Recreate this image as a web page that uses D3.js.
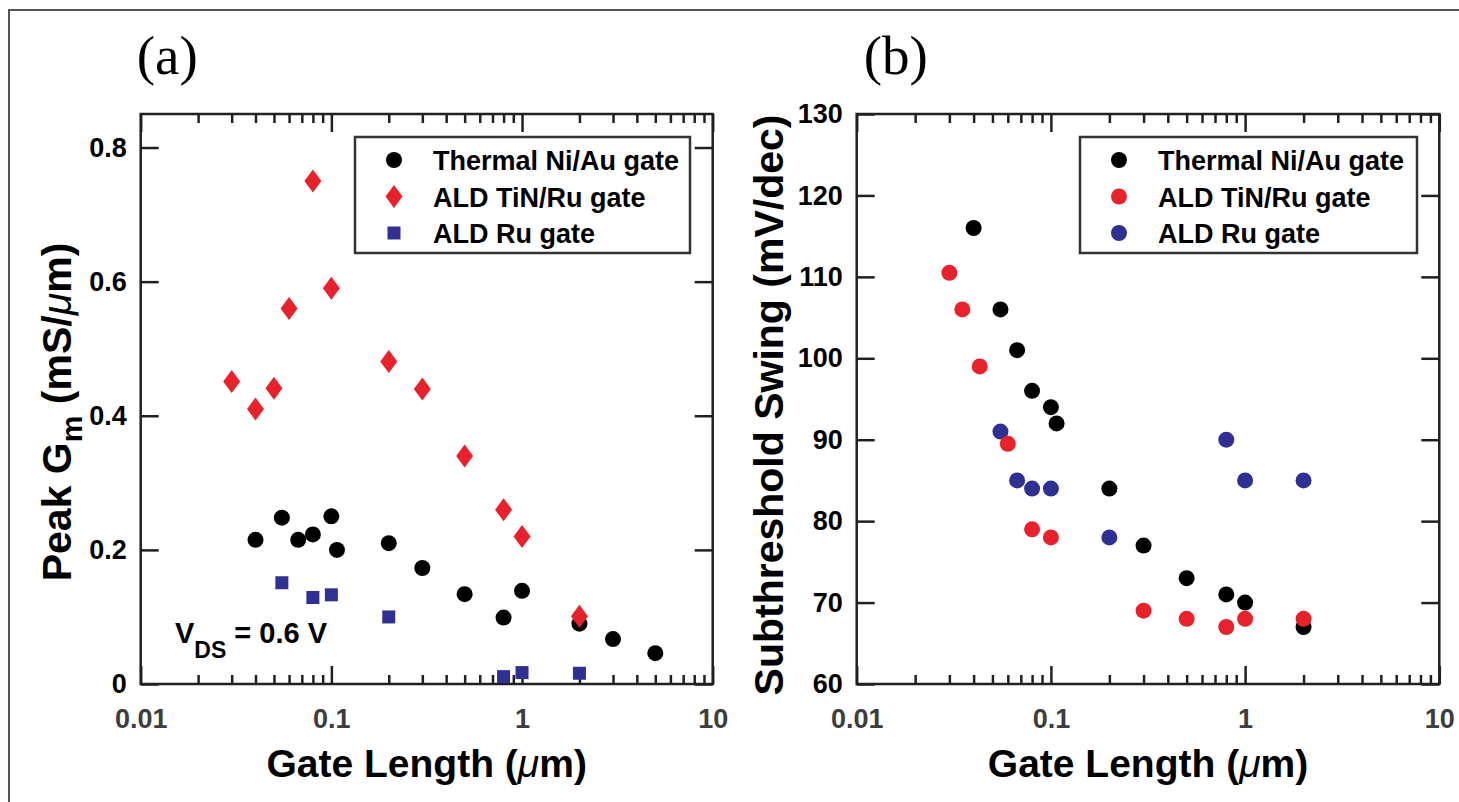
<!DOCTYPE html>
<html>
<head>
<meta charset="utf-8">
<script src="https://cdn.jsdelivr.net/npm/d3@7"></script>
<style>
  body { margin: 0; background: #fff; }
  svg { display: block; font-family: "Liberation Sans", Arial, sans-serif; }
</style>
</head>
<body>
<svg id="chart"></svg>
<script>
// ---- panel (a): peak Gm vs gate length
const thermalLgA = [0.04, 0.055, 0.067, 0.08, 0.1, 0.107, 0.2, 0.3, 0.5, 0.8, 1, 2, 3, 5];
const thermalGm = [0.215, 0.248, 0.215, 0.223, 0.25, 0.2, 0.21, 0.173, 0.134, 0.099, 0.139, 0.09, 0.067, 0.046];
const tinRuLgA = [0.03, 0.04, 0.05, 0.06, 0.08, 0.1, 0.2, 0.3, 0.5, 0.8, 1, 2];
const tinRuGm = [0.451, 0.41, 0.441, 0.56, 0.75, 0.59, 0.481, 0.44, 0.34, 0.26, 0.22, 0.101];
const ruLgA = [0.055, 0.08, 0.1, 0.2, 0.8, 1, 2];
const ruGm = [0.151, 0.129, 0.133, 0.1, 0.011, 0.017, 0.016];

// ---- panel (b): subthreshold swing vs gate length
const thermalLgB = [0.04, 0.055, 0.067, 0.08, 0.1, 0.107, 0.2, 0.3, 0.5, 0.8, 1, 2];
const thermalSS = [116, 106, 101, 96, 94, 92, 84, 77, 73, 71, 70, 67];
const tinRuLgB = [0.03, 0.035, 0.043, 0.06, 0.08, 0.1, 0.3, 0.5, 0.8, 1, 2];
const tinRuSS = [110.5, 106, 99, 89.5, 79, 78, 69, 68, 67, 68, 68];
const ruLgB = [0.055, 0.067, 0.08, 0.1, 0.2, 0.8, 1, 2];
const ruSS = [91, 85, 84, 84, 78, 90, 85, 85];

const legendNames = ["Thermal Ni/Au gate", "ALD TiN/Ru gate", "ALD Ru gate"];
const xTicks = [0.01, 0.1, 1, 10];
const xTickLabels = ["0.01", "0.1", "1", "10"];
const yTicksA = [0, 0.2, 0.4, 0.6, 0.8];
const yTickLabelsA = ["0", "0.2", "0.4", "0.6", "0.8"];
const yTicksB = [60, 70, 80, 90, 100, 110, 120, 130];

const RED = "#e8212a";
const BLUE = "#2e3192";
const AXIS = "#231f20";

const zip = (xs, ys) => xs.map((x, i) => ({x: x, y: ys[i]}));

const svg = d3.select("#chart")
              .attr("width", 1459)
              .attr("height", 802);

svg.append("rect").attr("width", 1459).attr("height", 802).attr("fill", "#fff");
// outer figure frame (cropped at right/bottom)
svg.append("rect")
   .attr("x", 9).attr("y", 10)
   .attr("width", 1600).attr("height", 900)
   .attr("fill", "none").attr("stroke", "#555").attr("stroke-width", 2);

function drawPanel(opt) {
    const x = d3.scaleLog().domain([0.01, 10]).range([opt.left, opt.right]);
    const y = d3.scaleLinear().domain(opt.yDomain).range([684, 114]);
    const g = svg.append("g");
    const minor = x.ticks().filter(v => !xTicks.includes(v));

    const style = sel => {
        sel.select(".domain").remove();
        sel.selectAll("line").attr("stroke", AXIS).attr("stroke-width", 2.5);
        sel.selectAll("text").attr("font-size", "27px").attr("font-weight", "bold").attr("font-family", null);
    };

    // bottom
    g.append("g").attr("transform", "translate(0,684)")
     .call(d3.axisBottom(x).tickValues(xTicks).tickSize(-18).tickSizeOuter(0).tickPadding(25)
            .tickFormat((d, i) => xTickLabels[i]))
     .call(style)
     .selectAll("text").attr("fill", "#3d3d3d");
    g.append("g").attr("transform", "translate(0,684)")
     .call(d3.axisBottom(x).tickValues(minor).tickSize(-9).tickSizeOuter(0).tickFormat(""))
     .call(style);
    // top
    g.append("g").attr("transform", "translate(0,114)")
     .call(d3.axisTop(x).tickValues(xTicks).tickSize(-18).tickSizeOuter(0).tickFormat(""))
     .call(style);
    g.append("g").attr("transform", "translate(0,114)")
     .call(d3.axisTop(x).tickValues(minor).tickSize(-9).tickSizeOuter(0).tickFormat(""))
     .call(style);
    // left
    g.append("g").attr("transform", `translate(${opt.left},0)`)
     .call(d3.axisLeft(y).tickValues(opt.yTicks).tickSize(-18).tickSizeOuter(0).tickPadding(14)
            .tickFormat(opt.yFormat))
     .call(style)
     .selectAll("text").attr("fill", "#000");
    // right
    g.append("g").attr("transform", `translate(${opt.right},0)`)
     .call(d3.axisRight(y).tickValues(opt.yTicks).tickSize(-18).tickSizeOuter(0).tickFormat(""))
     .call(style);

    g.append("rect")
     .attr("x", opt.left).attr("y", 114)
     .attr("width", opt.right - opt.left).attr("height", 570)
     .attr("fill", "none").attr("stroke", AXIS).attr("stroke-width", 2.5);

    // marks
    opt.series.forEach(s => {
        g.append("g").selectAll("path")
         .data(s.data)
         .enter()
         .append("path")
         .attr("transform", d => `translate(${x(d.x)},${y(d.y)})`)
         .attr("d", s.shape)
         .attr("fill", s.color);
    });

    // legend
    const lg = g.append("g");
    lg.append("rect")
      .attr("x", opt.legend[0]).attr("y", 137)
      .attr("width", opt.legend[1]).attr("height", 116)
      .attr("fill", "#fff").attr("stroke", "#333").attr("stroke-width", 2.5);
    opt.legendItems.forEach((s, i) => {
        const yy = 160 + i * 36.5;
        lg.append("path")
          .attr("transform", `translate(${opt.legend[0] + 39},${yy})`)
          .attr("d", s.shape).attr("fill", s.color);
        lg.append("text")
          .attr("x", opt.legend[0] + 78).attr("y", yy + 10)
          .attr("font-size", "27px").attr("font-weight", "bold")
          .text(legendNames[i]);
    });

    // x title
    const xt = g.append("text")
                .attr("x", (opt.left + opt.right) / 2).attr("y", 777)
                .attr("text-anchor", "middle")
                .attr("font-size", "39px").attr("font-weight", "bold");
    xt.append("tspan").text("Gate Length (");
    xt.append("tspan").attr("font-style", "italic").attr("font-weight", "normal").text("\u03bc");
    xt.append("tspan").text("m)");

    // panel letter
    g.append("text")
     .attr("x", opt.left + opt.letterDx).attr("y", 74)
     .attr("font-family", "'Liberation Serif', 'Times New Roman', serif")
     .attr("font-size", "55px")
     .text(opt.letter);

    return {g, x, y};
}

const circle = d3.symbol().type(d3.symbolCircle).size(Math.PI * 8 * 8)();
const square = d3.symbol().type(d3.symbolSquare).size(13 * 13)();
const diamond = "M0,-11.5L8.5,0L0,11.5L-8.5,0Z";

const panelA = drawPanel({
    left: 140.7, right: 712.7, yDomain: [0, 0.85], yTicks: yTicksA,
    yFormat: (d, i) => yTickLabelsA[i], letter: "(a)", letterDx: -4, legend: [355, 335],
    series: [
        {data: zip(thermalLgA, thermalGm), shape: circle, color: "#000"},
        {data: zip(ruLgA, ruGm), shape: square, color: BLUE},
        {data: zip(tinRuLgA, tinRuGm), shape: diamond, color: RED}
    ],
    legendItems: [
        {shape: circle, color: "#000"},
        {shape: diamond, color: RED},
        {shape: square, color: BLUE}
    ]
});

const panelB = drawPanel({
    left: 856.7, right: 1439.3, yDomain: [60, 130], yTicks: yTicksB,
    yFormat: d3.format("d"), letter: "(b)", letterDx: 7, legend: [1080, 337],
    series: [
        {data: zip(thermalLgB, thermalSS), shape: circle, color: "#000"},
        {data: zip(ruLgB, ruSS), shape: circle, color: BLUE},
        {data: zip(tinRuLgB, tinRuSS), shape: circle, color: RED}
    ],
    legendItems: [
        {shape: circle, color: "#000"},
        {shape: circle, color: RED},
        {shape: circle, color: BLUE}
    ]
});

// y titles
const ytA = svg.append("text")
               .attr("transform", "translate(71,412) rotate(-90)")
               .attr("text-anchor", "middle")
               .attr("font-size", "41px").attr("font-weight", "bold");
ytA.append("tspan").text("Peak G");
ytA.append("tspan").attr("font-size", "30px").attr("dy", 11).text("m");
ytA.append("tspan").attr("dy", -11).text(" (mS/");
ytA.append("tspan").attr("font-style", "italic").attr("font-weight", "normal").text("\u03bc");
ytA.append("tspan").text("m)");

svg.append("text")
   .attr("transform", "translate(783,405) rotate(-90)")
   .attr("text-anchor", "middle")
   .attr("font-size", "41px").attr("font-weight", "bold")
   .text("Subthreshold Swing (mV/dec)");

// VDS annotation
const vds = panelA.g.append("text")
                  .attr("x", 175).attr("y", 643)
                  .attr("font-size", "29px").attr("font-weight", "bold");
vds.append("tspan").text("V");
vds.append("tspan").attr("font-size", "23px").attr("dy", 15).text("DS");
vds.append("tspan").attr("dy", -15).text(" = 0.6 V");
</script>
</body>
</html>
